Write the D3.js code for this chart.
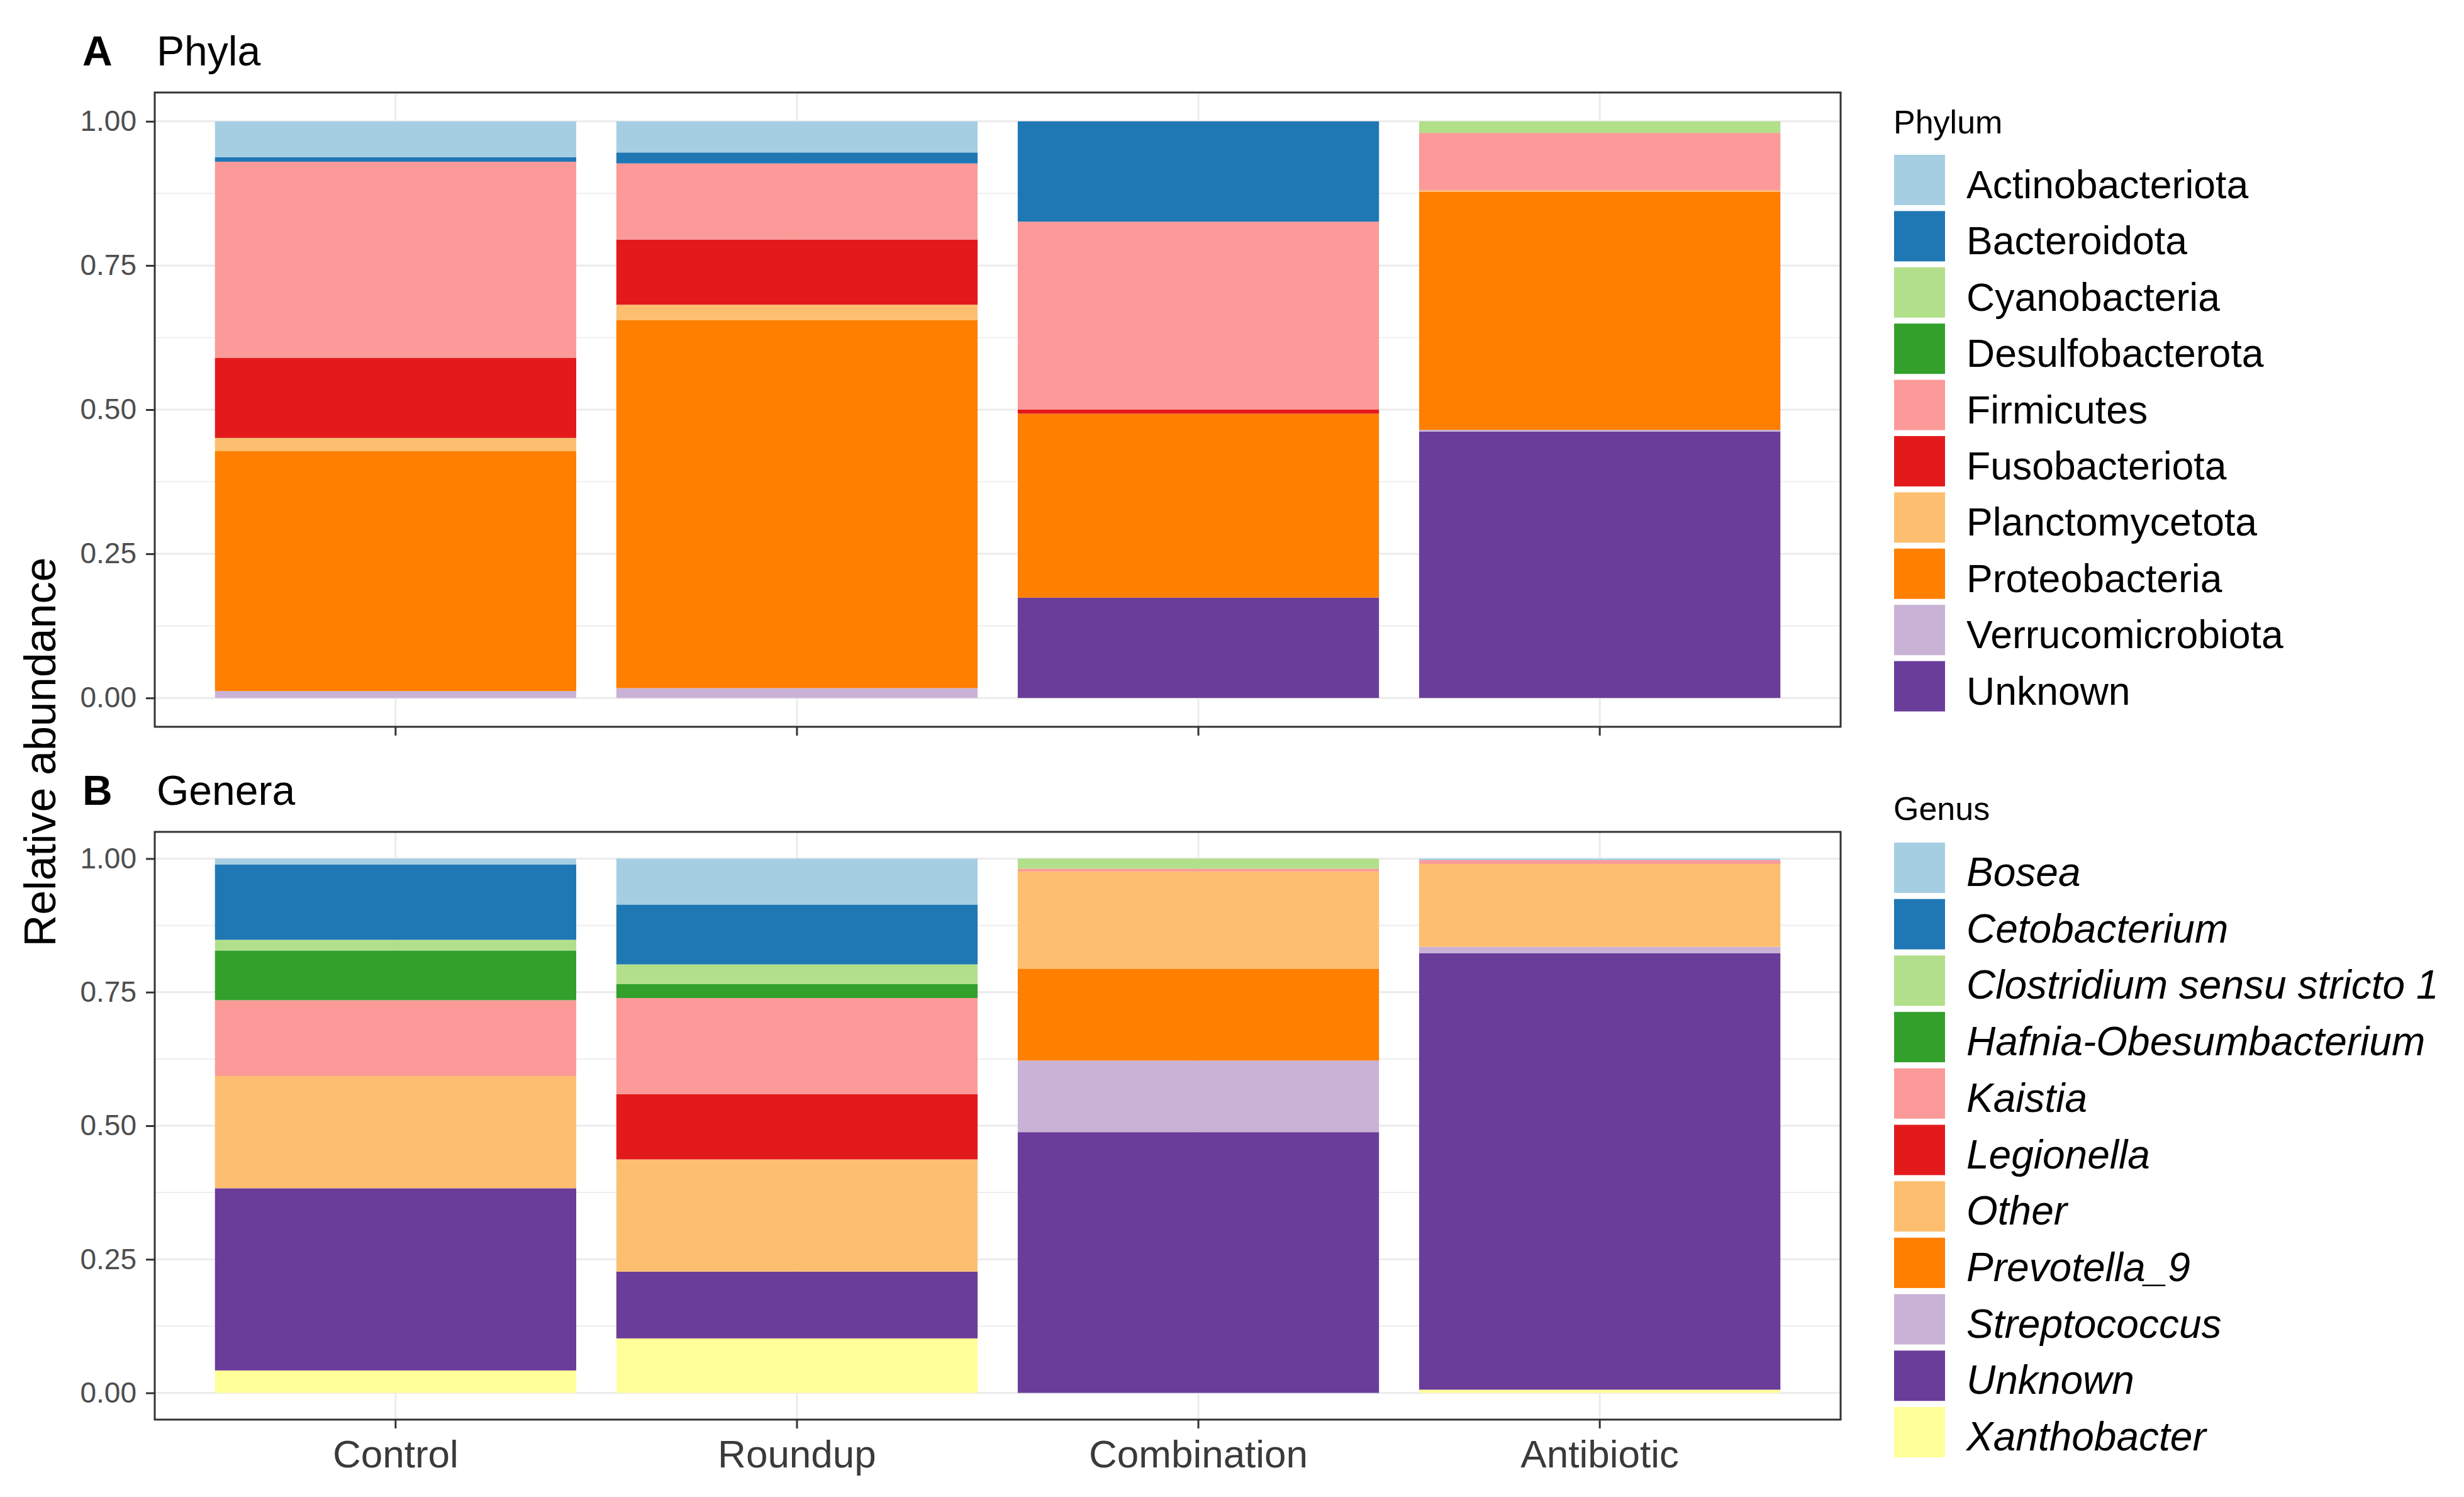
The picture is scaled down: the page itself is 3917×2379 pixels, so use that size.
<!DOCTYPE html>
<html>
<head>
<meta charset="utf-8">
<script src="https://cdn.jsdelivr.net/npm/d3@7"></script>
<style>
  body { margin: 0; background: #fff; }
  svg { display: block; font-family: "Liberation Sans", Arial, sans-serif; }
</style>
</head>
<body>
<div id="chart"></div>
<script>
// treatment groups on the x axis
const groups = ["Control", "Roundup", "Combination", "Antibiotic"];

// phyla, in legend order (first one sits on top of each bar)
const phyla = ["Actinobacteriota", "Bacteroidota", "Cyanobacteria", "Desulfobacterota",
    "Firmicutes", "Fusobacteriota", "Planctomycetota", "Proteobacteria",
    "Verrucomicrobiota", "Unknown"];
const phylaControl     = [0.062, 0.008, 0.000, 0.000, 0.340, 0.139, 0.023, 0.416, 0.012, 0.000];
const phylaRoundup     = [0.054, 0.019, 0.000, 0.000, 0.132, 0.113, 0.027, 0.638, 0.017, 0.000];
const phylaCombination = [0.000, 0.174, 0.000, 0.000, 0.326, 0.007, 0.000, 0.319, 0.000, 0.174];
const phylaAntibiotic  = [0.000, 0.000, 0.020, 0.000, 0.100, 0.000, 0.002, 0.413, 0.003, 0.462];

// genera, in legend order
const genera = ["Bosea", "Cetobacterium", "Clostridium sensu stricto 1", "Hafnia-Obesumbacterium",
    "Kaistia", "Legionella", "Other", "Prevotella_9", "Streptococcus", "Unknown", "Xanthobacter"];
const generaControl     = [0.011, 0.141, 0.020, 0.093, 0.142, 0.000, 0.210, 0.000, 0.000, 0.341, 0.042];
const generaRoundup     = [0.086, 0.112, 0.037, 0.026, 0.180, 0.122, 0.210, 0.000, 0.000, 0.125, 0.102];
const generaCombination = [0.000, 0.000, 0.019, 0.000, 0.005, 0.000, 0.182, 0.172, 0.134, 0.488, 0.000];
const generaAntibiotic  = [0.003, 0.000, 0.000, 0.000, 0.007, 0.000, 0.155, 0.000, 0.012, 0.817, 0.006];

const yTicks = [0, 0.25, 0.5, 0.75, 1];
const yMinor = [0.125, 0.375, 0.625, 0.875];

const W = 3917, H = 2379;
const panelLeft = 246, panelRight = 2926;
const tickColor = "#333333", labelColor = "#4D4D4D", gridColor = "#EBEBEB";

const svg = d3.select("#chart").append("svg")
    .attr("width", W)
    .attr("height", H);

svg.append("rect").attr("width", W).attr("height", H).attr("fill", "#fff");

const x = d3.scaleBand()
    .domain(groups)
    .range([panelLeft, panelRight])
    .paddingInner(0.1)
    .paddingOuter(0.15);

function buildRows(keys, arrays) {
    return groups.map((g, gi) => {
        const row = {group: g};
        keys.forEach((k, ki) => { row[k] = arrays[gi][ki]; });
        return row;
    });
}

function drawPanel(cfg) {
    const y = d3.scaleLinear()
        .domain([-0.05, 1.05])
        .range([cfg.bottom, cfg.top]);

    const colors = d3.scaleOrdinal()
        .domain(cfg.keys)
        .range(d3.schemePaired);

    const g = svg.append("g").attr("class", "panel");

    // grid
    g.selectAll(".minor").data(yMinor).join("line")
        .attr("x1", panelLeft).attr("x2", panelRight)
        .attr("y1", d => y(d)).attr("y2", d => y(d))
        .attr("stroke", gridColor).attr("stroke-width", 1.6);
    g.selectAll(".major").data(yTicks).join("line")
        .attr("x1", panelLeft).attr("x2", panelRight)
        .attr("y1", d => y(d)).attr("y2", d => y(d))
        .attr("stroke", gridColor).attr("stroke-width", 3);
    g.selectAll(".vmajor").data(groups).join("line")
        .attr("x1", d => x(d) + x.bandwidth() / 2).attr("x2", d => x(d) + x.bandwidth() / 2)
        .attr("y1", cfg.top).attr("y2", cfg.bottom)
        .attr("stroke", gridColor).attr("stroke-width", 3);

    // stacked bars: last legend entry goes at the bottom
    const stack = d3.stack().keys(cfg.keys.slice().reverse());
    const series = stack(buildRows(cfg.keys, cfg.values));

    g.selectAll(".layer").data(series).join("g")
        .attr("fill", s => colors(s.key))
        .selectAll("rect")
        .data(s => s)
        .join("rect")
        .attr("x", d => x(d.data.group))
        .attr("width", x.bandwidth())
        .attr("y", d => y(d[1]))
        .attr("height", d => Math.max(0, y(d[0]) - y(d[1])));

    // panel border
    g.append("rect")
        .attr("x", panelLeft).attr("y", cfg.top)
        .attr("width", panelRight - panelLeft).attr("height", cfg.bottom - cfg.top)
        .attr("fill", "none").attr("stroke", tickColor).attr("stroke-width", 3);

    // y axis
    const yAxis = g.append("g")
        .attr("transform", "translate(" + panelLeft + ",0)")
        .call(d3.axisLeft(y).tickValues(yTicks).tickFormat(d3.format(".2f"))
            .tickSize(14).tickPadding(15));
    yAxis.select(".domain").remove();
    yAxis.selectAll("line").attr("stroke", tickColor).attr("stroke-width", 3);
    yAxis.selectAll("text").attr("fill", labelColor)
        .attr("font-size", 46).attr("font-family", "Liberation Sans, Arial, sans-serif");

    // x axis
    const xAxis = g.append("g")
        .attr("transform", "translate(0," + cfg.bottom + ")")
        .call(d3.axisBottom(x).tickSize(14).tickPadding(18)
            .tickFormat(cfg.xLabels ? (d => d) : () => ""));
    xAxis.select(".domain").remove();
    xAxis.selectAll("line").attr("stroke", tickColor).attr("stroke-width", 3);
    xAxis.selectAll("text").attr("fill", "#3a3a3a")
        .attr("font-size", 62).attr("font-family", "Liberation Sans, Arial, sans-serif");

    // tag and title
    g.append("text").attr("x", 131).attr("y", cfg.titleY)
        .attr("font-size", 66).attr("font-weight", "bold").text(cfg.tag);
    g.append("text").attr("x", 249).attr("y", cfg.titleY)
        .attr("font-size", 66).text(cfg.title);

    // legend
    const leg = g.append("g").attr("class", "legend");
    leg.append("text").attr("x", 3010).attr("y", cfg.legendTitleY)
        .attr("font-size", 52).attr("fill", "#000").text(cfg.legendTitle);
    const items = leg.selectAll(".item").data(cfg.keys).join("g")
        .attr("transform", (d, i) => "translate(3011," + (cfg.legendTop + i * cfg.legendStep) + ")");
    items.append("rect")
        .attr("width", 81).attr("height", 80)
        .attr("fill", d => colors(d));
    items.append("text")
        .attr("x", 115).attr("y", 40 + 29)
        .attr("font-size", cfg.labelSize)
        .attr("font-style", cfg.italic ? "italic" : "normal")
        .text(d => d);
}

drawPanel({
    top: 147, bottom: 1155,
    keys: phyla,
    values: [phylaControl, phylaRoundup, phylaCombination, phylaAntibiotic],
    xLabels: false,
    tag: "A", title: "Phyla", titleY: 104,
    legendTitle: "Phylum", legendTitleY: 212, legendTop: 246, legendStep: 89.4,
    italic: false, labelSize: 62.5
});

drawPanel({
    top: 1322, bottom: 2256,
    keys: genera,
    values: [generaControl, generaRoundup, generaCombination, generaAntibiotic],
    xLabels: true,
    tag: "B", title: "Genera", titleY: 1279,
    legendTitle: "Genus", legendTitleY: 1303, legendTop: 1339, legendStep: 89.7,
    italic: true, labelSize: 64
});

// shared y axis title
svg.append("text")
    .attr("transform", "translate(88,1195) rotate(-90)")
    .attr("text-anchor", "middle")
    .attr("font-size", 70)
    .text("Relative abundance");
</script>
</body>
</html>
